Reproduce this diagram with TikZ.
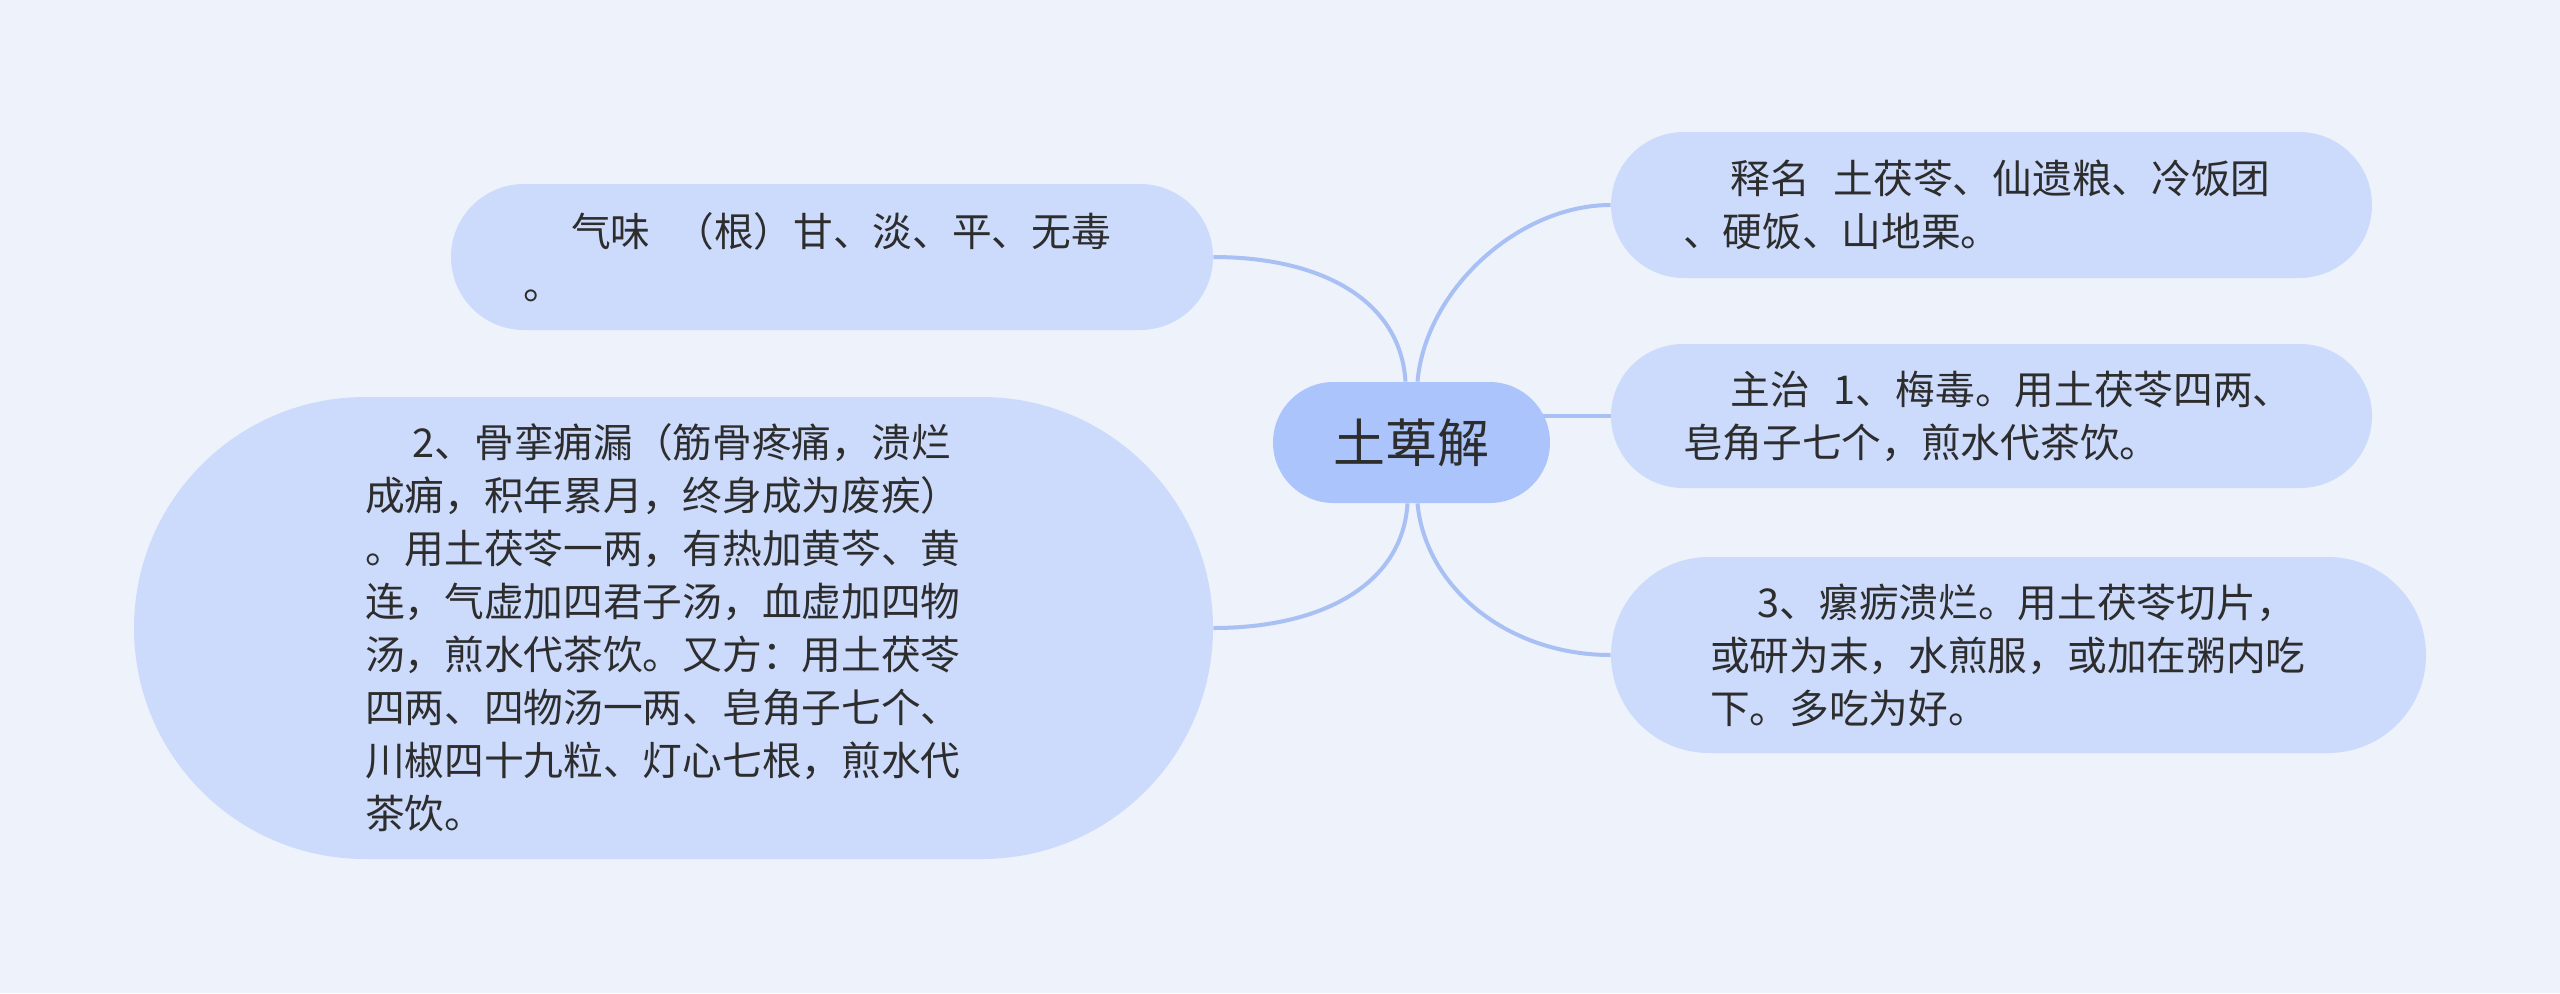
\documentclass[tikz,border=0pt]{standalone}
\usepackage{fontspec}
\newfontfamily\cjk{Noto Sans CJK SC}
\usetikzlibrary{shapes.misc}
\definecolor{paper}{RGB}{238,242,251}
\definecolor{leaf}{RGB}{204,218,251}
\definecolor{hub}{RGB}{171,196,251}
\definecolor{link}{RGB}{169,192,245}
\definecolor{ink}{RGB}{45,45,45}
\pgfdeclarelayer{canvas}
\pgfdeclarelayer{links}
\pgfsetlayers{canvas,links,main}

\begin{document}
\begin{tikzpicture}[x=0.5pt,y=-0.5pt,
    leafbox/.style={rounded rectangle,fill=leaf,text=ink,inner xsep=0pt,inner ysep=2pt,
      text width=308.5pt,align=left,font={\cjk\fontsize{19.85}{26.5}\selectfont}},
    linkline/.style={draw=link,line width=2pt}]
  \useasboundingbox (0,0) rectangle (2560,993);
  \begin{pgfonlayer}{canvas}
    \fill[paper] (0,0) rectangle (2560,993);
  \end{pgfonlayer}
  % centre
  \node[rounded rectangle,fill=hub,text=ink,inner xsep=0.5pt,minimum height=60.5pt,
    minimum width=139.5pt,font={\cjk\fontsize{26}{30}\selectfont}] (root) at (1411.5,442.5) {土萆解};
  % left side
  \node[leafbox,minimum height=73pt,minimum width=381pt] (xingwei) at (832,257)
    {\hspace*{1.2em}气味\hspace{0.6em}（根）甘、淡、平、无毒\\。};
  \node[leafbox,minimum height=231pt,minimum width=539.5pt] (gulian) at (673.5,628)
    {\hspace*{1.2em}2、骨挛痈漏（筋骨疼痛，溃烂\\
     成痈，积年累月，终身成为废疾）\\
     。用土茯苓一两，有热加黄芩、黄\\
     连，气虚加四君子汤，血虚加四物\\
     汤，煎水代茶饮。又方：用土茯苓\\
     四两、四物汤一两、皂角子七个、\\
     川椒四十九粒、灯心七根，煎水代\\
     茶饮。};
  % right side
  \node[leafbox,minimum height=73pt,minimum width=380.5pt] (shiming) at (1991.5,205)
    {\hspace*{1.2em}释名\hspace{0.6em}土茯苓、仙遗粮、冷饭团\\、硬饭、山地栗。};
  \node[leafbox,minimum height=72pt,minimum width=380.5pt] (zhuzhi) at (1991.5,416)
    {\hspace*{1.2em}主治\hspace{0.6em}1、梅毒。用土茯苓四两、\\皂角子七个，煎水代茶饮。};
  \node[leafbox,minimum height=98pt,minimum width=407.5pt] (luoli) at (2018.5,655)
    {\hspace*{1.2em}3、瘰疬溃烂。用土茯苓切片，\\
     或研为末，水煎服，或加在粥内吃\\
     下。多吃为好。};
  \begin{pgfonlayer}{links}
    \draw[linkline] ([xshift=-3pt]root.north) .. controls +(-5,-82) and +(107,0) .. (xingwei.east);
    \draw[linkline] ([xshift=3pt]root.north) .. controls +(8,-92) and +(-92,0) .. (shiming.west);
    \draw[linkline] (root.center |- zhuzhi.west) -- (zhuzhi.west);
    \draw[linkline] ([xshift=-2pt]root.south) .. controls +(-5,82) and +(107,0) .. (gulian.east);
    \draw[linkline] ([xshift=3pt]root.south) .. controls +(8,85) and +(-102,0) .. (luoli.west);
  \end{pgfonlayer}
\end{tikzpicture}
\end{document}
